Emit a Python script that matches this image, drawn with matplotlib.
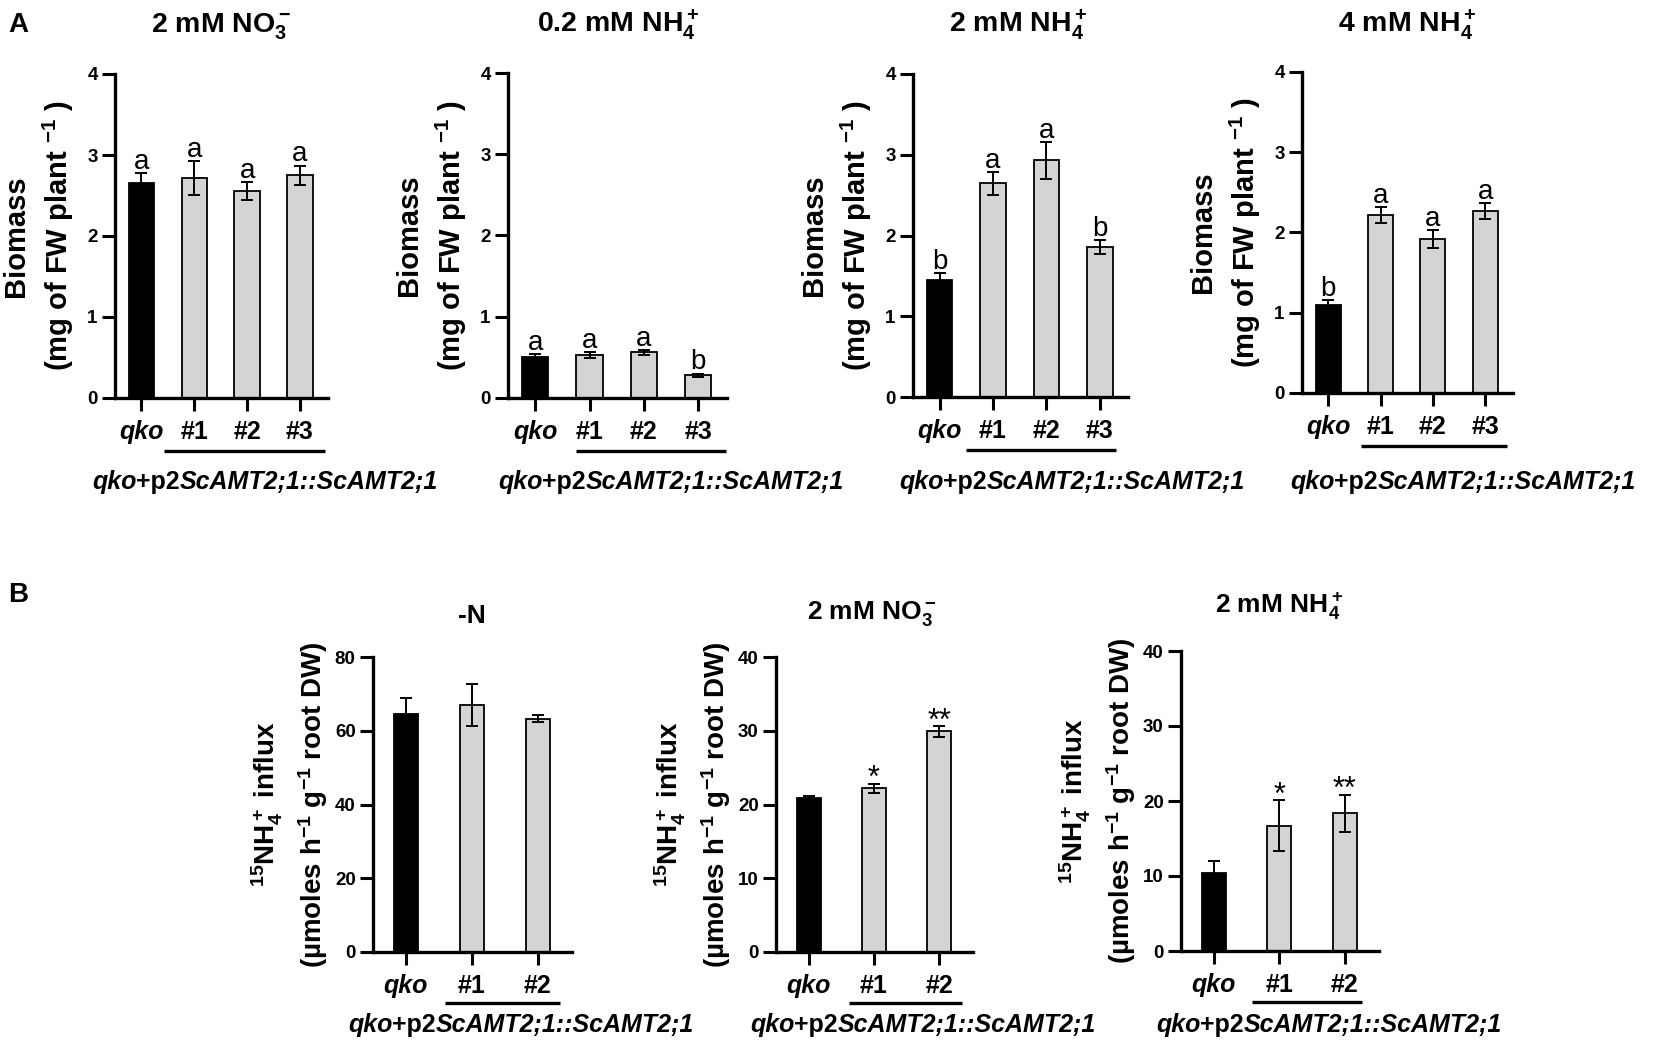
import matplotlib
matplotlib.use("Agg")
from matplotlib import pyplot as plt
from matplotlib import transforms

plt.rcParams['font.family'] = ['Liberation Sans', 'DejaVu Sans']
plt.rcParams['font.weight'] = 'bold'
plt.rcParams['mathtext.fontset'] = 'custom'
plt.rcParams['mathtext.rm'] = 'Liberation Sans:bold'
plt.rcParams['mathtext.it'] = 'Liberation Sans:italic:bold'
plt.rcParams['mathtext.bf'] = 'Liberation Sans:bold'
plt.rcParams['mathtext.default'] = 'regular'

# ---- data (panel A: biomass, mg FW per plant) ----
lines_a = ["qko", "#1", "#2", "#3"]
biomass_no3_2 = [2.66, 2.72, 2.56, 2.75]
biomass_no3_2_err = [0.12, 0.21, 0.11, 0.12]
letters_no3_2 = ["a", "a", "a", "a"]

biomass_nh4_02 = [0.50, 0.53, 0.56, 0.28]
biomass_nh4_02_err = [0.04, 0.035, 0.03, 0.02]
letters_nh4_02 = ["a", "a", "a", "b"]

biomass_nh4_2 = [1.45, 2.645, 2.93, 1.855]
biomass_nh4_2_err = [0.085, 0.14, 0.23, 0.09]
letters_nh4_2 = ["b", "a", "a", "b"]

biomass_nh4_4 = [1.095, 2.215, 1.915, 2.27]
biomass_nh4_4_err = [0.06, 0.10, 0.11, 0.10]
letters_nh4_4 = ["b", "a", "a", "a"]

# ---- data (panel B: 15NH4+ influx) ----
lines_b = ["qko", "#1", "#2"]
influx_minus_n = [64.5, 67.1, 63.3]
influx_minus_n_err = [4.5, 5.7, 0.9]
stars_minus_n = ["", "", ""]

influx_no3 = [20.9, 22.2, 29.9]
influx_no3_err = [0.3, 0.6, 0.75]
stars_no3 = ["", "*", "**"]

influx_nh4 = [10.35, 16.7, 18.35]
influx_nh4_err = [1.65, 3.4, 2.5]
stars_nh4 = ["", "*", "**"]

titles_a = ["2 mM NO$_3^-$", "0.2 mM NH$_4^+$", "2 mM NH$_4^+$", "4 mM NH$_4^+$"]
titles_b = ["-N", "2 mM NO$_3^-$", "2 mM NH$_4^+$"]

W, H = 1653, 1042
fig = plt.figure(figsize=(W / 100, H / 100), dpi=100)


def fx(x):
    return x / W


def fy(y):
    return 1 - y / H


def geno_label(cx, cy, size=18):
    parts = [("qko", "italic"), ("+p2", "normal"), ("ScAMT2;1::ScAMT2;1", "italic")]
    texts = [fig.text(0, fy(cy), s, style=st, fontsize=size, fontweight='bold',
                      ha='left', va='center') for s, st in parts]
    r = fig.canvas.get_renderer()
    widths = [t.get_window_extent(r).width for t in texts]
    x0 = cx - sum(widths) / 2
    for t, w in zip(texts, widths):
        t.set_x(fx(x0))
        x0 += w


def panel(box, names, vals, errs, marks, ymax, ystep, bar_w, xmax, span,
          mark_size, mark_dy, line_dy, geno_xy):
    l, t, r, b = box
    ax = fig.add_axes([fx(l), fy(b), (r - l) / W, (b - t) / H])
    x = list(range(len(names)))
    colors = ['black'] + ['#d4d4d4'] * (len(names) - 1)
    ax.bar(x, vals, bar_w, color=colors, edgecolor='black', linewidth=1.3, zorder=2)
    ax.errorbar(x, vals, yerr=errs, fmt='none', ecolor='black', elinewidth=1.4,
                capsize=4.5, capthick=1.4, zorder=3)
    for xi, v, e, m in zip(x, vals, errs, marks):
        if m:
            ax.annotate(m, (xi, v + e), xytext=(0, mark_dy), textcoords='offset points',
                        ha='center', va='baseline', fontsize=mark_size,
                        fontweight='normal', annotation_clip=False)
    ax.set_xlim(-0.5, xmax)
    ax.set_ylim(0, ymax)
    ax.set_yticks(list(range(0, ymax + 1, ystep)))
    ax.set_xticks(x)
    for s in ['top', 'right']:
        ax.spines[s].set_visible(False)
    for s in ['left', 'bottom']:
        ax.spines[s].set_linewidth(2.4)
    ax.tick_params(direction='out', length=9.5, width=2.2, labelsize=13.5, pad=3)
    ax.tick_params(axis='x', pad=6, labelsize=18)
    ax.set_xticklabels(names, fontsize=18, fontweight='bold')
    ax.get_xticklabels()[0].set_style('italic')
    trans = transforms.blended_transform_factory(ax.transData, fig.transFigure)
    ax.plot(span, [fy(b + line_dy)] * 2, color='black', lw=2.4, transform=trans,
            clip_on=False, solid_capstyle='butt')
    geno_label(*geno_xy)
    return ax


# ---- panel A ----
boxes_a = [(115, 74, 328, 398), (508, 73, 727, 398), (913, 74, 1128, 397), (1302, 72, 1513, 393)]
spans_a = [(0.42, 3.47), (0.76, 3.52), (0.5, 3.3), (0.63, 3.42)]
geno_a = [(265, 482), (671, 482), (1072, 482), (1463, 482)]
title_a_x = [221, 618, 1018, 1407]
data_a = [
    (biomass_no3_2, biomass_no3_2_err, letters_no3_2),
    (biomass_nh4_02, biomass_nh4_02_err, letters_nh4_02),
    (biomass_nh4_2, biomass_nh4_2_err, letters_nh4_2),
    (biomass_nh4_4, biomass_nh4_4_err, letters_nh4_4),
]
for i, (vals, errs, marks) in enumerate(data_a):
    box = boxes_a[i]
    panel(box, lines_a, vals, errs, marks, 4, 1, 0.48, 3.53, spans_a[i],
          20, 3, 53, geno_a[i])
    fig.text(fx(title_a_x[i]), fy(32), titles_a[i], fontsize=20.5, fontweight='bold',
             ha='center', va='baseline')
    cy = (box[1] + box[3]) / 2
    fig.text(fx(box[0] - 99), fy(cy), "Biomass", rotation=90, fontsize=21,
             fontweight='bold', ha='center', va='center')
    fig.text(fx(box[0] - 57), fy(cy), "(mg of FW plant $^{-1}$ )", rotation=90,
             fontsize=21, fontweight='bold', ha='center', va='center')

# ---- panel B ----
boxes_b = [(373, 657, 572, 952), (776, 657, 973, 952), (1181, 651, 1379, 951)]
spans_b = [(0.6, 2.34), (0.62, 2.35), (0.59, 2.26)]
geno_b = [(521, 1025), (923, 1025), (1329, 1025)]
title_b_xy = [(472, 623), (872, 619), (1279, 613)]
ymax_b = [80, 40, 40]
data_b = [
    (influx_minus_n, influx_minus_n_err, stars_minus_n),
    (influx_no3, influx_no3_err, stars_no3),
    (influx_nh4, influx_nh4_err, stars_nh4),
]
for i, (vals, errs, marks) in enumerate(data_b):
    box = boxes_b[i]
    panel(box, lines_b, vals, errs, marks, ymax_b[i], ymax_b[i] // 4, 0.37, 2.52,
          spans_b[i], 22, -2.5, 51, geno_b[i])
    tx, ty = title_b_xy[i]
    fig.text(fx(tx), fy(ty), titles_b[i], fontsize=19, fontweight='bold',
             ha='center', va='baseline')
    cy = (box[1] + box[3]) / 2
    fig.text(fx(box[0] - 106), fy(cy), "$^{15}$NH$_4^+$ influx", rotation=90,
             fontsize=20, fontweight='bold', ha='center', va='center')
    fig.text(fx(box[0] - 60), fy(cy), "(µmoles h$^{-1}$ g$^{-1}$ root DW)", rotation=90,
             fontsize=20, fontweight='bold', ha='center', va='center')

fig.text(fx(18), fy(32), "A", fontsize=20, fontweight='bold', ha='center', va='baseline')
fig.text(fx(18), fy(602), "B", fontsize=20, fontweight='bold', ha='center', va='baseline')

fig.savefig("out.png", dpi=100, facecolor='white')
